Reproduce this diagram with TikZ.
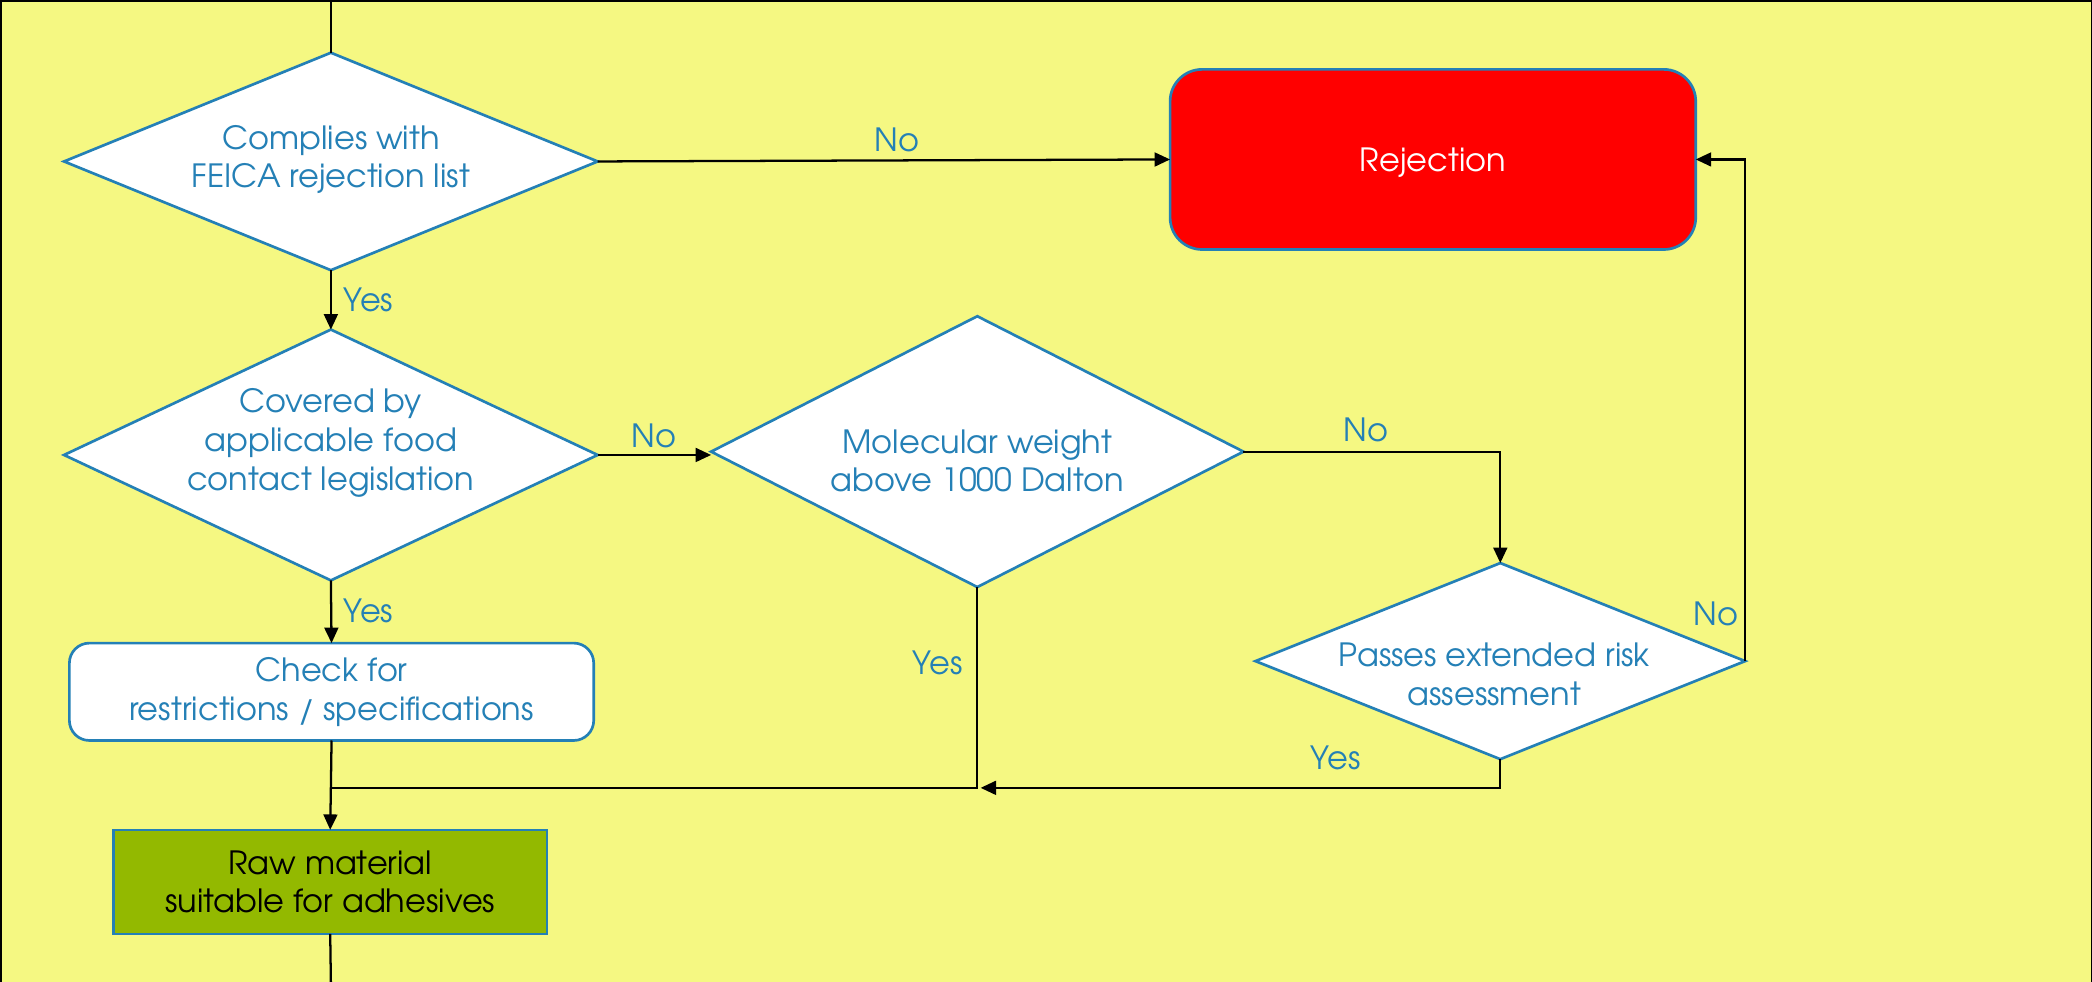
\documentclass[tikz,border=0pt]{standalone}
\usepackage{fontspec}
\setmainfont{TeX Gyre Adventor}
\usetikzlibrary{shapes.geometric,arrows.meta}
\definecolor{bg}{RGB}{245,248,130}
\definecolor{fblue}{RGB}{36,128,182}
\definecolor{fgreen}{RGB}{147,185,0}
\begin{document}
\begin{tikzpicture}[x=0.5pt,y=-0.5pt,
  dec/.style={diamond,draw=fblue,line width=1pt,fill=white,inner sep=0pt,outer sep=0pt,aspect=1},
  box/.style={draw=fblue,line width=1pt,inner sep=0pt,outer sep=0pt,align=center,font=\fontsize{12}{14.5}\selectfont},
  txt/.style={text=fblue,font=\fontsize{12}{14.5}\selectfont,align=center,inner sep=0pt},
  lbl/.style={text=fblue,font=\fontsize{12}{14.5}\selectfont,inner sep=0pt},
  conn/.style={draw=black,line width=0.85pt},
  arr/.style={conn,-{Triangle[length=5.8pt,width=5.2pt]}},
]
\useasboundingbox (0,0) rectangle (1568,736);
\fill[bg] (0,0) rectangle (1568,736);
\draw[line width=1.5pt] (0,736) -- (0,0) -- (1568,0);
\draw[line width=1pt] (1568,0) -- (1568,736);

% nodes
\node[dec,minimum width=200pt,minimum height=81.5pt] (d1) at (248,121) {};
\node[txt] (d1t) at (248,119.5) {Complies with\\FEICA rejection list};
\node[dec,minimum width=200pt,minimum height=94pt] (d2) at (248,341) {};
\node[txt] (d2t) at (248,332) {Covered by\\applicable food\\contact legislation};
\node[dec,minimum width=199.5pt,minimum height=101.5pt] (d3) at (732.5,338.5) {};
\node[txt] (d3t) at (732.5,345.5) {Molecular weight\\above 1000 Dalton};
\node[dec,minimum width=183.5pt,minimum height=73.5pt] (d4) at (1124.5,495.5) {};
\node[txt] (d4t) at (1120,505.5) {Passes extended risk\\assessment};
\node[box,fill=red,text=white,rounded corners=12pt,minimum width=197pt,minimum height=67.5pt,text height=8.8pt,text depth=0pt] (rej) at (1074,119.5) {Rejection};
\node[box,fill=white,text=fblue,rounded corners=7.5pt,minimum width=196.5pt,minimum height=36.5pt] (chk) at (248.5,518.5) {Check for\\restrictions / specifications};
\node[box,fill=fgreen,text=black,minimum width=162.5pt,minimum height=39pt] (raw) at (247.5,661) {Raw material\\suitable for adhesives};

% coordinates
\coordinate (top) at (248,0);
\coordinate (bot) at (248,736);
\coordinate (j) at (248,590.5);
\coordinate (mj) at (735,590.5);

% connectors
\draw[conn] (top) -- (d1.north);
\draw[arr] (d1.east) -- (rej.west);
\draw[arr] (d1.south) -- (d2.north);
\draw[arr] (d2.east) -- (d2.east -| d3.west);
\draw[arr] (d2.south) -- (chk.north);
\draw[arr] (d3.east) -| (d4.north);
\draw[arr] (d4.east) |- (rej.east);
\draw[arr] (d4.south) |- (mj);
\draw[conn] (d3.south) -- (d3.south |- mj) -- (j);
\draw[conn] (chk.south) -- (j);
\draw[arr] (j) -- (raw.north);
\draw[conn] (raw.south) -- (bot);

% labels
\node[lbl] (l1) at (672,105) {No};
\node[lbl] (l2) at (276,225) {Yes};
\node[lbl] (l3) at (490,327) {No};
\node[lbl] (l4) at (1024,322) {No};
\node[lbl] (l5) at (1286,460) {No};
\node[lbl] (l6) at (1001,568) {Yes};
\node[lbl] (l7) at (703,497) {Yes};
\node[lbl] (l8) at (276,458) {Yes};
\end{tikzpicture}
\end{document}
